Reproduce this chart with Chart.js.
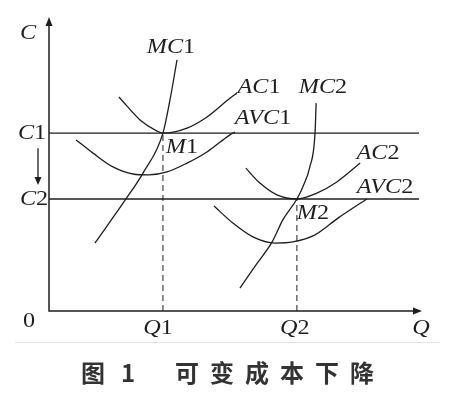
<!DOCTYPE html>
<html>
<head>
<meta charset="utf-8">
<script src="https://cdn.jsdelivr.net/npm/chart.js@4/dist/chart.umd.min.js"></script>
<style>
  html, body { margin: 0; padding: 0; background: #fff; }
  canvas { display: block; }
</style>
</head>
<body>
<canvas id="chart" width="454" height="394"></canvas>
<script>
// 曲线数据（Q, C）
const MC1 = [[1.24, 2.31], [2.08, 3.81], [2.54, 4.69], [3.08, 6.05], [3.27, 7.18], [3.46, 8.54]];
const AC1 = [[1.89, 7.28], [2.46, 6.50], [2.92, 6.12], [3.08, 6.05], [3.73, 6.22], [4.27, 6.60], [4.89, 7.24], [5.08, 7.41]];
const AVC1 = [[0.73, 5.82], [1.19, 5.37], [1.73, 4.90], [2.27, 4.66], [2.70, 4.63], [3.19, 4.73], [3.73, 5.03], [4.27, 5.41], [4.89, 5.99], [5.03, 6.09]];
const MC2 = [[5.16, 0.78], [5.59, 1.56], [6.03, 2.35], [6.32, 3.10], [6.70, 3.81], [6.86, 4.22], [7.05, 4.90], [7.19, 6.05], [7.22, 7.07]];
const AC2 = [[5.32, 4.86], [5.70, 4.35], [6.16, 3.95], [6.70, 3.81], [7.24, 4.01], [7.78, 4.39], [8.41, 5.03]];
const AVC2 = [[4.46, 3.57], [4.97, 2.99], [5.51, 2.52], [6.11, 2.31], [6.59, 2.35], [7.19, 2.59], [7.81, 3.16], [8.59, 3.81]];

// 价格水平与产量
const costLevels = [6.05, 3.81];   // C1, C2
const quantities = [3.08, 6.70];   // Q1, Q2
const xMax = 10, yMax = 10;

const toPts = arr => arr.map(([x, y]) => ({ x, y }));
const ink = '#1e1e1e';

function curve(arr) {
  return {
    data: toPts(arr),
    showLine: true,
    borderColor: ink,
    borderWidth: 1.3,
    pointRadius: 0,
    cubicInterpolationMode: 'monotone',
    clip: false
  };
}

function straight(pts, dash = []) {
  return {
    data: pts,
    showLine: true,
    borderColor: ink,
    borderWidth: dash.length ? 1 : 1.4,
    borderDash: dash,
    pointRadius: 0,
    clip: false
  };
}

const datasets = [
  ...costLevels.map(c => straight([{ x: 0, y: c }, { x: xMax, y: c }])),
  straight([{ x: quantities[0], y: 0 }, { x: quantities[0], y: costLevels[0] }], [6, 4]),
  straight([{ x: quantities[1], y: 0 }, { x: quantities[1], y: costLevels[1] }], [6, 4]),
  curve(MC1), curve(AC1), curve(AVC1),
  curve(MC2), curve(AC2), curve(AVC2)
];

// 斜体字母 + 正体数字，略微横向拉伸
function drawLabel(ctx, text, cx, cy, size = 22, sx = 1.1) {
  const runs = text.match(/[0-9]+|[^0-9]+/g);
  const fontOf = s => (/[0-9]/.test(s) ? '' : 'italic ') + size + 'px "Liberation Serif", "Times New Roman", serif';
  let total = 0;
  runs.forEach(r => { ctx.font = fontOf(r); total += ctx.measureText(r).width; });
  ctx.save();
  ctx.translate(cx, cy);
  ctx.scale(sx, 1);
  let x = -total / 2;
  ctx.textBaseline = 'middle';
  ctx.textAlign = 'left';
  runs.forEach(r => {
    ctx.font = fontOf(r);
    ctx.fillText(r, x, 0);
    x += ctx.measureText(r).width;
  });
  ctx.restore();
}

function arrowHead(ctx, x, y, dir, len = 9, half = 3.5) {
  ctx.beginPath();
  if (dir === 'up') { ctx.moveTo(x, y); ctx.lineTo(x - half, y + len); ctx.lineTo(x + half, y + len); }
  if (dir === 'right') { ctx.moveTo(x, y); ctx.lineTo(x - len, y - half); ctx.lineTo(x - len, y + half); }
  if (dir === 'down') { ctx.moveTo(x, y); ctx.lineTo(x - half, y - len); ctx.lineTo(x + half, y - len); }
  ctx.closePath();
  ctx.fill();
}

const decorPlugin = {
  id: 'decor',
  beforeDatasetsDraw(chart) {
    const { ctx, scales: { x, y } } = chart;
    const x0 = x.getPixelForValue(0), y0 = y.getPixelForValue(0);
    const yTop = y.getPixelForValue(yMax);
    const xEnd = x.getPixelForValue(xMax) + 3;
    ctx.save();
    ctx.strokeStyle = ink;
    ctx.fillStyle = ink;
    ctx.lineWidth = 1.5;
    ctx.beginPath();
    ctx.moveTo(x0, yTop + 4); ctx.lineTo(x0, y0);
    ctx.lineTo(xEnd - 4, y0);
    ctx.stroke();
    arrowHead(ctx, x0, yTop, 'up');
    arrowHead(ctx, xEnd, y0, 'right');
    ctx.restore();
  },
  afterDraw(chart) {
    const { ctx, scales: { x, y } } = chart;
    const px = v => x.getPixelForValue(v), py = v => y.getPixelForValue(v);
    ctx.save();
    ctx.fillStyle = ink;
    ctx.strokeStyle = ink;

    // 坐标轴标签
    drawLabel(ctx, 'C', 28, 33);
    drawLabel(ctx, 'C1', 32, py(costLevels[0]));
    drawLabel(ctx, 'C2', 34, py(costLevels[1]));
    drawLabel(ctx, '0', 29, 321);
    drawLabel(ctx, 'Q1', px(quantities[0]) - 5, 328);
    drawLabel(ctx, 'Q2', px(quantities[1]) - 2, 328);
    drawLabel(ctx, 'Q', 421, 328);

    // 曲线标签
    drawLabel(ctx, 'MC1', 171, 47);
    drawLabel(ctx, 'AC1', 259, 87);
    drawLabel(ctx, 'MC2', 323, 87);
    drawLabel(ctx, 'AVC1', 263, 118);
    drawLabel(ctx, 'AC2', 378, 153);
    drawLabel(ctx, 'AVC2', 385, 187);
    drawLabel(ctx, 'M1', 182, 147);
    drawLabel(ctx, 'M2', 313, 213);

    // C1 -> C2 箭头
    const ax = 38;
    ctx.lineWidth = 1.3;
    ctx.beginPath();
    ctx.moveTo(ax, py(costLevels[0]) + 15);
    ctx.lineTo(ax, py(costLevels[1]) - 20);
    ctx.stroke();
    arrowHead(ctx, ax, py(costLevels[1]) - 14, 'down', 8, 3.5);

    // 扫描痕迹
    ctx.strokeStyle = '#e4e4e4';
    ctx.lineWidth = 1;
    ctx.beginPath();
    ctx.moveTo(15, 342.5); ctx.lineTo(440, 342.5);
    ctx.stroke();

    // 图题
    ctx.fillStyle = '#333';
    ctx.font = 'bold 24px "Noto Sans CJK SC", sans-serif';
    ctx.textBaseline = 'middle';
    ctx.textAlign = 'left';
    ctx.fillText('图', 81, 373);
    ctx.fillText('1', 121, 373);
    ctx.letterSpacing = '11px';
    ctx.fillText('可变成本下降', 175, 373);
    ctx.restore();
  }
};

new Chart(document.getElementById('chart'), {
  type: 'scatter',
  data: { datasets },
  options: {
    responsive: false,
    animation: false,
    events: [],
    layout: { padding: { left: 49, right: 35, top: 17, bottom: 83 } },
    plugins: { legend: { display: false }, tooltip: { enabled: false } },
    scales: {
      x: { type: 'linear', min: 0, max: xMax, display: false },
      y: { type: 'linear', min: 0, max: yMax, display: false }
    }
  },
  plugins: [decorPlugin]
});
</script>
</body>
</html>
